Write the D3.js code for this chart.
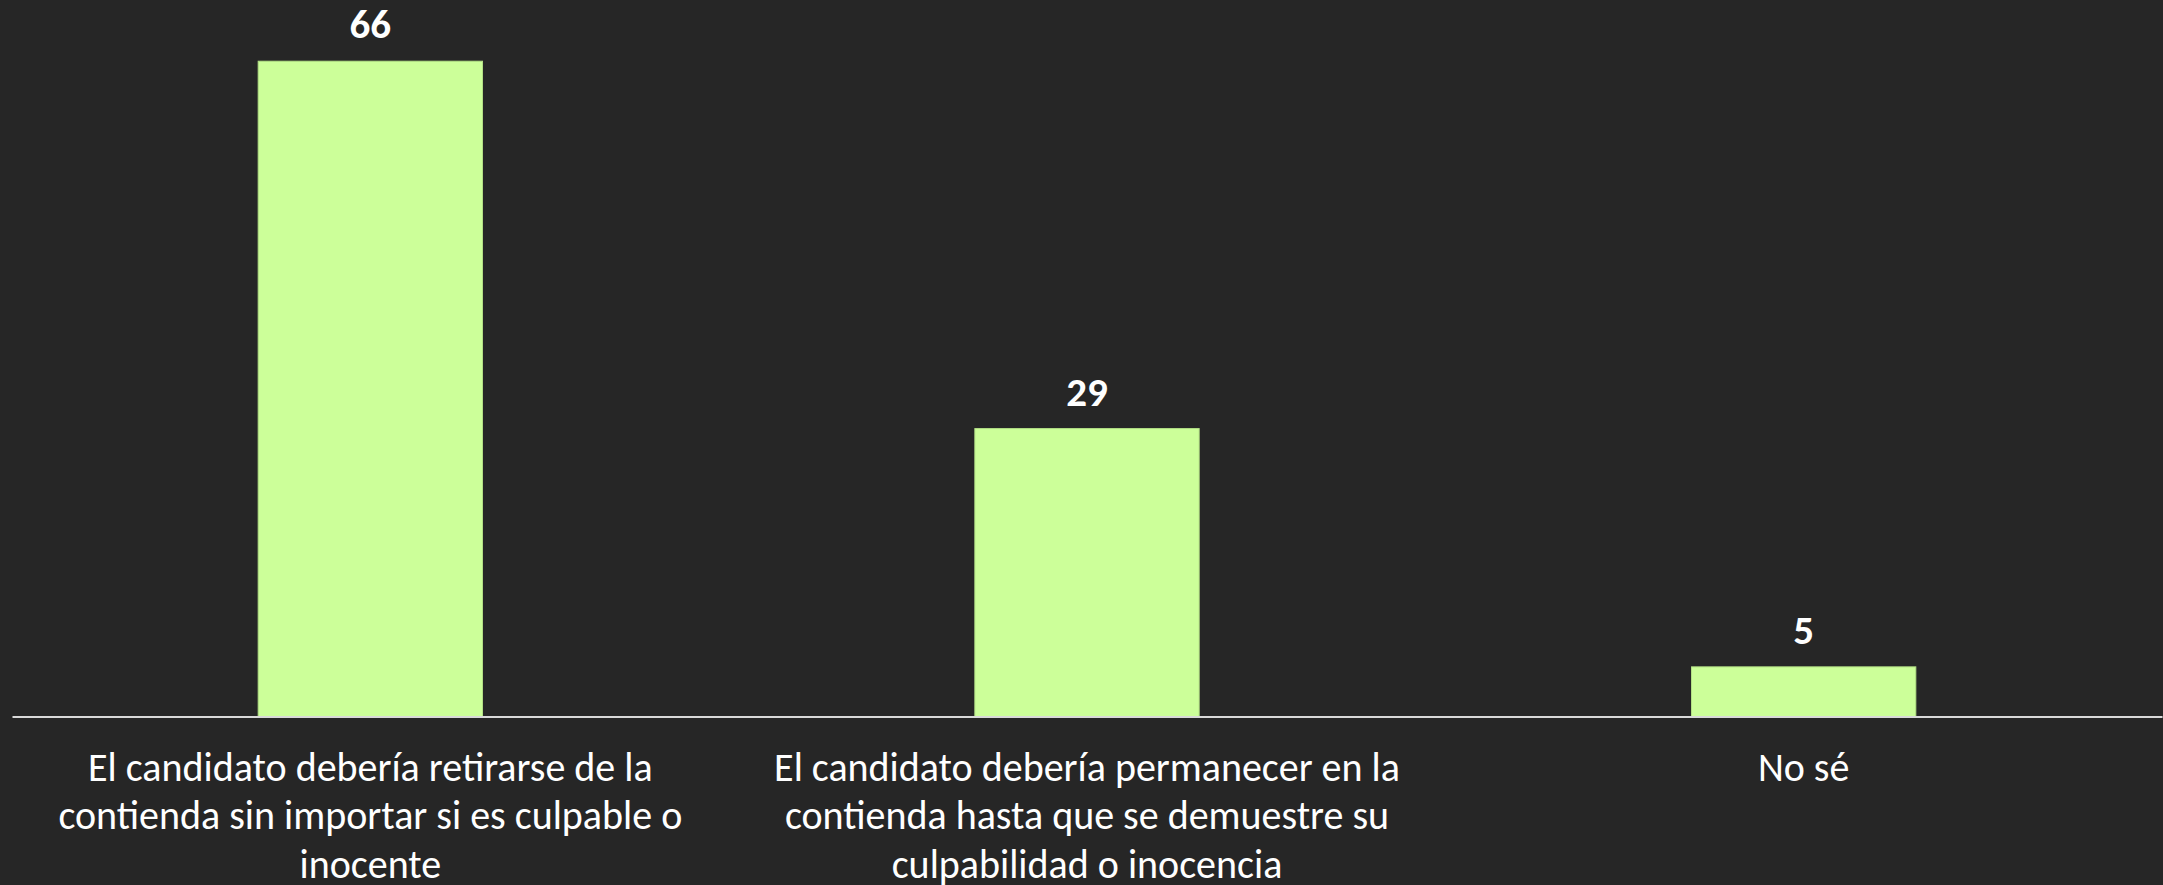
<!DOCTYPE html>
<html lang="es">
<head>
    <meta charset="UTF-8">
    <title>Encuesta candidato</title>
    <style>
        html, body { margin: 0; padding: 0; background: #262626; }
        svg { display: block; }
        .cat text { font-family: Carlito, Calibri, Lato, sans-serif; font-size: 40px; fill: #ffffff; }
        .val { font-family: Carlito, Calibri, Lato, sans-serif; font-size: 41px; font-weight: bold; fill: #ffffff; }
    </style>
</head>
<body>
    <div id="chart"></div>
    <script src="https://cdn.jsdelivr.net/npm/d3@7"></script>
    <script>
        const categories = [
            "El candidato debería retirarse de la contienda sin importar si es culpable o inocente",
            "El candidato debería permanecer en la contienda hasta que se demuestre su culpabilidad o inocencia",
            "No sé"
        ];
        const values = [66, 29, 5];

        const width = 2163, height = 885;
        const baseY = 716.5;

        const svg = d3.select("#chart").append("svg")
            .attr("width", width)
            .attr("height", height);

        const x = d3.scaleBand()
            .domain(categories)
            .range([12, 2162])
            .paddingInner(0.687)
            .paddingOuter(0.3435);

        const y = d3.scaleLinear()
            .domain([0, 70])
            .range([baseY, 21.5]);

        // barras
        svg.selectAll("rect.bar").data(values)
            .enter()
            .append("rect")
            .attr("class", "bar")
            .attr("fill", "#ccff99")
            .attr("stroke", "#b3e085")
            .attr("stroke-width", 1)
            .attr("x", (d, i) => x(categories[i]))
            .attr("y", d => y(d))
            .attr("width", x.bandwidth())
            .attr("height", d => baseY - y(d));

        // etiquetas de valor
        svg.selectAll("text.val").data(values)
            .enter()
            .append("text")
            .attr("class", "val")
            .attr("text-anchor", "middle")
            .attr("x", (d, i) => x(categories[i]) + x.bandwidth() / 2)
            .attr("y", d => y(d) - 23)
            .text(d => d);

        // eje x
        const axis = d3.axisBottom(x).tickSize(0).tickPadding(0);
        const g = svg.append("g")
            .attr("class", "cat")
            .attr("transform", `translate(0, ${baseY})`)
            .call(axis);
        g.select(".domain").attr("stroke", "#d9d9d9").attr("stroke-width", 2);
        g.selectAll(".tick text").call(wrap, 660);

        function wrap(sel, maxW) {
            sel.each(function () {
                const t = d3.select(this);
                const words = t.text().split(/\s+/);
                t.text(null).attr("y", null).attr("dy", null);
                let line = [];
                let lines = 0;
                let tspan = t.append("tspan").attr("x", 0).attr("y", 64);
                words.forEach(w => {
                    line.push(w);
                    tspan.text(line.join(" "));
                    if (tspan.node().getComputedTextLength() > maxW && line.length > 1) {
                        line.pop();
                        tspan.text(line.join(" "));
                        line = [w];
                        lines++;
                        tspan = t.append("tspan").attr("x", 0).attr("y", 64 + lines * 48.6).text(w);
                    }
                });
            });
        }
    </script>
</body>
</html>
